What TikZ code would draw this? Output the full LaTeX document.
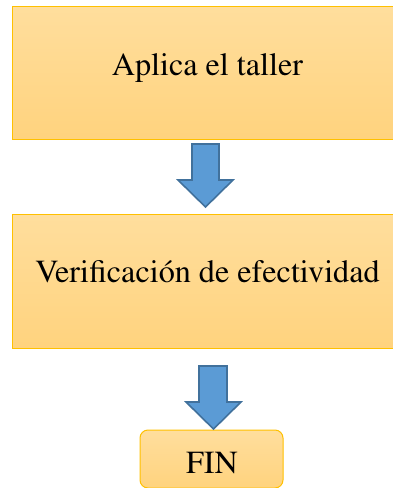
\documentclass[tikz,border=0pt]{standalone}
\usepackage[T1]{fontenc}
\usepackage{times}
\definecolor{boxtop}{RGB}{255,222,157}
\definecolor{boxbot}{RGB}{255,211,126}
\definecolor{boxline}{RGB}{255,192,0}
\definecolor{arrfill}{RGB}{91,155,213}
\definecolor{arrline}{RGB}{65,113,156}
\tikzset{
  stepbox/.style={draw=boxline, line width=1pt, top color=boxtop, bottom color=boxbot, inner sep=0pt},
  steptext/.style={font=\fontsize{32.2}{38}\selectfont, anchor=base, inner sep=0pt},
  blockarrow/.style={draw=arrline, fill=arrfill, line width=1.6pt, line join=miter}
}
\begin{document}
\begin{tikzpicture}[x=1pt,y=-1pt]
\useasboundingbox (0,0) rectangle (393,488);
% boxes
\node[stepbox, minimum width=391pt, minimum height=133pt] (b1) at (207.5,72.5) {};
\node[stepbox, minimum width=391pt, minimum height=134pt] (b2) at (207.5,281) {};
\node[stepbox, rounded corners=8pt, minimum width=143pt, minimum height=58pt] (b3) at (211.5,459) {};
% texts
\node[steptext] (t1) at (207.5,75) {Aplica el taller};
\node[steptext] (t2) at (207.5,282) {Verificaci\'on de efectividad};
\node[steptext] (t3) at (212,473) {FIN};
% block arrows
\draw[blockarrow] (192,144) -- (219,144) -- (219,180) -- (233,180) -- (205.5,207) -- (178,180) -- (192,180) -- cycle;
\draw[blockarrow] (199,366) -- (227,366) -- (227,402) -- (241,402) -- (213.5,429) -- (186,402) -- (199,402) -- cycle;
\end{tikzpicture}
\end{document}
